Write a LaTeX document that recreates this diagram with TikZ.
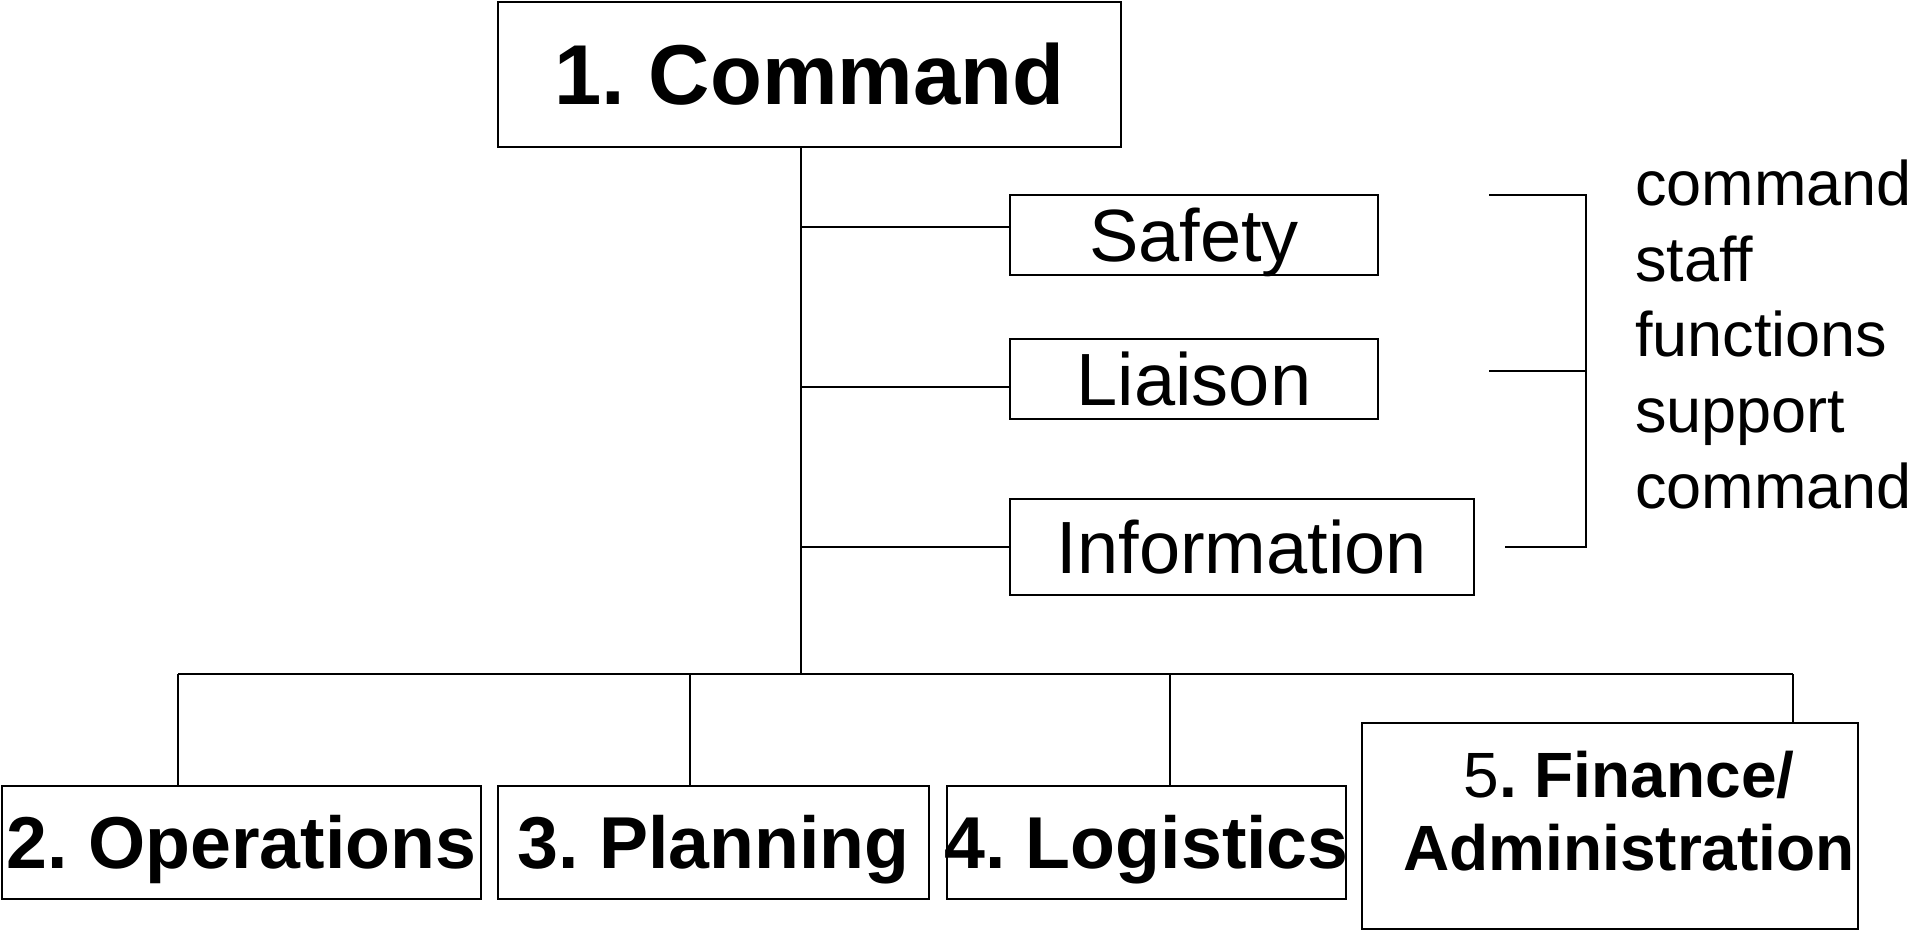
\documentclass[tikz,border=0pt]{standalone}
\usepackage{fontspec}
\setmainfont{Liberation Sans}
\frenchspacing
\begin{document}
\begin{tikzpicture}[x=1pt,y=-1pt,
  box/.style={draw, line width=1.8pt, inner sep=0pt, rectangle, text depth=0pt},
  link/.style={line width=1.6pt},
  big/.style={font=\fontsize{85}{90}\selectfont\bfseries, text height=61pt},
  staffbox/.style={box, font=\fontsize{74}{80}\selectfont, text height=53pt},
  secbox/.style={box, font=\fontsize{73.5}{80}\selectfont\bfseries, text height=52.6pt, minimum height=113pt}]
\useasboundingbox (0,0) rectangle (1915,931);

% boxes
\node[box, big, minimum width=623pt, minimum height=145pt] (cmd) at (809.5,74.5) {1. Command};
\node[staffbox, minimum width=368pt, minimum height=80pt] (safety) at (1194,235) {Safety};
\node[staffbox, minimum width=368pt, minimum height=80pt] (liaison) at (1194,379) {Liaison};
\node[staffbox, minimum width=464pt, minimum height=96pt] (info) at (1242,547) {Information};

\node[secbox, minimum width=479pt] (ops) at (241.5,842.5) {\makebox[0pt]{2. Operations}};
\node[secbox, minimum width=431pt] (plan) at (713.5,842.5) {\makebox[0pt]{3. Planning}};
\node[secbox, minimum width=399pt] (log) at (1146.5,842.5) {\makebox[0pt]{4. Logistics}};
\node[draw, line width=1.8pt, inner sep=0pt, minimum width=496pt, minimum height=206pt] (fin) at (1610,826) {};
\node[inner sep=0pt, anchor=base, font=\fontsize{64}{73}\selectfont] (fintext) at (1629,870)
  {\begin{tabular}[b]{@{}c@{}}{\mdseries 5}\textbf{. Finance/}\\\textbf{Administration}\end{tabular}};

% note on the right
\node[inner sep=0pt, anchor=base west, font=\fontsize{63}{76}\selectfont] (note) at (1635,205)
  {\begin{tabular}[t]{@{}l@{}}command\\staff\\functions\\support\\command\end{tabular}};

% coordinates
\coordinate (bus) at (801,674);
\coordinate (s1) at (801,227);
\coordinate (s2) at (801,387);
\coordinate (s3) at (801,547);
\coordinate (d2) at (178,674);
\coordinate (d3) at (690,674);
\coordinate (d4) at (1170,674);
\coordinate (d5) at (1793,674);
\coordinate (b1) at (1489,195);
\coordinate (b2) at (1489,371);
\coordinate (b3) at (1505,547);
\coordinate (bk) at (1586,195);

% connectors
\draw[link] (cmd.south -| bus) -- (bus);
\draw[link] (s1) -- (s1 -| safety.west);
\draw[link] (s2) -- (s2 -| liaison.west);
\draw[link] (s3) -- (s3 -| info.west);
\draw[link] (d2) -- (d5);
\draw[link] (d2) -- (d2 |- ops.north);
\draw[link] (d3) -- (d3 |- plan.north);
\draw[link] (d4) -- (d4 |- log.north);
\draw[link] (d5) -- (d5 |- fin.north);
\draw[link] (b1) -- (bk) |- (b3);
\draw[link] (b2) -- (b2 -| bk);
\end{tikzpicture}
\end{document}
